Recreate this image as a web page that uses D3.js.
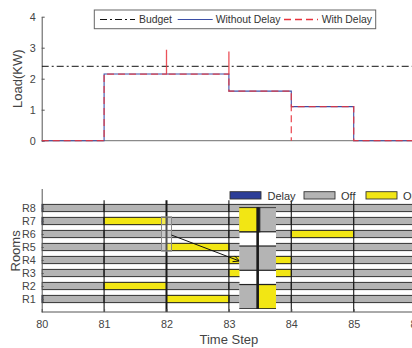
<!DOCTYPE html>
<html>
<head>
<meta charset="utf-8">
<script src="https://cdn.jsdelivr.net/npm/d3@7"></script>
<style>
  body { margin: 0; background: #fff; }
  svg { display: block; font-family: "Liberation Sans", Arial, sans-serif; }
  .axis text { fill: #444; font-size: 10.8px; }
  .axis path, .axis line { stroke: #555; }
</style>
</head>
<body>
<svg id="chart" width="412" height="348"></svg>
<script>
// Data
const timeSteps = [80, 81, 82, 83, 84, 85, 86];
const rooms = ["R1", "R2", "R3", "R4", "R5", "R6", "R7", "R8"];
const loadTicks = [0, 1, 2, 3, 4];
const budget = 2.4;

// step profiles (time, load)
const withoutDelayTime = [80, 81, 81, 83, 83, 84, 84, 85, 85, 86.6];
const withoutDelayLoad = [0, 0, 2.15, 2.15, 1.6, 1.6, 1.1, 1.1, 0, 0];
const withDelayTime = [80, 81, 81, 82, 82, 82, 83, 83, 83, 84, 84, 84, 85, 85, 86.6];
const withDelayLoad = [0, 0, 2.15, 2.15, 2.93, 2.15, 2.15, 2.88, 1.6, 1.6, 0, 1.1, 1.1, 0, 0];

// room "On" intervals
const onRoom  = ["R7", "R2", "R5", "R1", "R4", "R3", "R6"];
const onStart = [81, 81, 82, 82, 83, 83, 84];
const onEnd   = [82, 82, 83, 83, 84, 84, 85];

// room "Delay" intervals (tiny)
const delayRoom  = ["R8", "R7", "R1", "R7"];
const delayStart = [80, 80, 80, 82];
const delayEnd   = [80.02, 80.02, 80.02, 82.009];

// Colors
const colors = {
  budget: "#111",
  without: "#3b4fa6",
  withD: "#e8323c",
  off: "#b4b4b4",
  on: "#f2e614",
  delay: "#2c3e98"
};

const svg = d3.select("#chart");
svg.append("rect").attr("width", 412).attr("height", 348).attr("fill", "#fff");
const defs = svg.append("defs");

// shared x scale (figure is cropped on the right)
const x = d3.scaleLinear().domain([80, 86.5]).range([41.7, 41.7 + 6.5 * 62.4]);

// ---------------- Top panel: load ----------------
const yTop = d3.scaleLinear().domain([0, 4]).range([140.7, 16.7]);

defs.append("clipPath").attr("id", "clipTop")
  .append("rect").attr("x", 41.7).attr("y", 10).attr("width", 400).attr("height", 135);

const topPanel = svg.append("g");

// x baseline
topPanel.append("line")
  .attr("x1", x(80)).attr("x2", 412)
  .attr("y1", yTop(0)).attr("y2", yTop(0))
  .attr("stroke", "#8a8a8a").attr("stroke-width", 1.2);

topPanel.append("g").attr("class", "axis")
  .attr("transform", `translate(${x(80)},0)`)
  .call(d3.axisLeft(yTop).tickValues(loadTicks).tickFormat(d3.format("d"))
    .tickSize(-3).tickPadding(6).tickSizeOuter(0));

const plotTop = topPanel.append("g").attr("clip-path", "url(#clipTop)");

plotTop.append("line")
  .attr("x1", x(80)).attr("x2", x(86.5))
  .attr("y1", yTop(budget)).attr("y2", yTop(budget))
  .attr("stroke", colors.budget).attr("stroke-width", 1)
  .attr("stroke-dasharray", "7,3,2,3");

const lineGen = d3.line().x(d => x(d[0])).y(d => yTop(d[1]));

plotTop.append("path")
  .datum(withoutDelayTime.map((t, i) => [t, withoutDelayLoad[i]]))
  .attr("d", lineGen)
  .attr("fill", "none").attr("stroke", colors.without).attr("stroke-width", 1.1);

plotTop.append("path")
  .datum(withDelayTime.map((t, i) => [t, withDelayLoad[i]]))
  .attr("d", lineGen)
  .attr("fill", "none").attr("stroke", colors.withD).attr("stroke-width", 1.3)
  .attr("stroke-dasharray", "7,4").attr("opacity", 0.85);

topPanel.append("text")
  .attr("transform", `translate(22,${yTop(2)}) rotate(-90)`)
  .attr("text-anchor", "middle")
  .attr("fill", "#444").attr("font-size", 13)
  .text("Load(KW)");

// legend
const leg = topPanel.append("g");
leg.append("rect").attr("x", 94.3).attr("y", 10).attr("width", 281.4).attr("height", 18.7)
  .attr("fill", "#fff").attr("stroke", "#666").attr("stroke-width", 1);
const legItems = [
  { label: "Budget", x0: 100, x1: 135, tx: 139, color: colors.budget, dash: "7,3,2,3", w: 1 },
  { label: "Without Delay", x0: 177.7, x1: 212.7, tx: 215.7, color: colors.without, dash: null, w: 1.1 },
  { label: "With Delay", x0: 284, x1: 318, tx: 321.7, color: colors.withD, dash: "7,4", w: 1.3 }
];
legItems.forEach(d => {
  leg.append("line").attr("x1", d.x0).attr("x2", d.x1).attr("y1", 19.5).attr("y2", 19.5)
    .attr("stroke", d.color).attr("stroke-width", d.w)
    .attr("stroke-dasharray", d.dash);
  leg.append("text").attr("x", d.tx).attr("y", 23.3)
    .attr("fill", "#333").attr("font-size", 10.4).text(d.label);
});

// ---------------- Bottom panel: rooms ----------------
const yBot = d3.scaleLinear().domain([0, 9.5]).range([312, 188.5]);
const roomVal = r => rooms.indexOf(r) + 1;
const barH = 0.56;

defs.append("clipPath").attr("id", "clipBot")
  .append("rect").attr("x", 41.7).attr("y", 188).attr("width", 400).attr("height", 124);

// cells: each room, each time step, default Off
const cells = [];
rooms.forEach(r => {
  timeSteps.forEach(t => cells.push({ room: r, start: t, end: t + 1, state: "off" }));
});
onRoom.forEach((r, i) => cells.push({ room: r, start: onStart[i], end: onEnd[i], state: "on" }));
delayRoom.forEach((r, i) => cells.push({ room: r, start: delayStart[i], end: delayEnd[i], state: "delay" }));

function drawCells(g, xs, ys, h, sw) {
  g.selectAll("rect.cell").data(cells).join("rect")
    .attr("class", "cell")
    .attr("x", d => xs(d.start))
    .attr("width", d => xs(d.end) - xs(d.start))
    .attr("y", d => ys(roomVal(d.room) + h / 2))
    .attr("height", d => ys(roomVal(d.room) - h / 2) - ys(roomVal(d.room) + h / 2))
    .attr("fill", d => colors[d.state])
    .attr("stroke", "#222").attr("stroke-width", sw);
}

function drawGrid(g, xs, ys, y0, y1) {
  g.selectAll("line.grid").data(timeSteps.filter(t => t > 80)).join("line")
    .attr("class", "grid")
    .attr("x1", d => xs(d)).attr("x2", d => xs(d))
    .attr("y1", ys(y0)).attr("y2", ys(y1))
    .attr("stroke", "#1a1a1a")
    .attr("stroke-width", d => d === 82 ? 2 : 1.1);
}

const bot = svg.append("g");
const plotBot = bot.append("g").attr("clip-path", "url(#clipBot)");
drawCells(plotBot, x, yBot, barH, 0.9);
drawGrid(plotBot, x, yBot, 0, 8.6);

bot.append("g").attr("class", "axis")
  .attr("transform", `translate(0,312)`)
  .call(d3.axisBottom(x).tickValues(timeSteps).tickFormat(d3.format("d"))
    .tickSize(-3).tickPadding(8).tickSizeOuter(0))
  .call(g => g.select(".domain").attr("d", `M${x(80)},0H412`));

bot.append("g").attr("class", "axis")
  .attr("transform", `translate(${x(80)},0)`)
  .call(d3.axisLeft(yBot).tickValues(rooms.map((r, i) => i + 1))
    .tickFormat(v => rooms[v - 1]).tickSize(-2).tickPadding(6).tickSizeOuter(0));

bot.append("text")
  .attr("transform", `translate(19.5,${yBot(4.7)}) rotate(-90)`)
  .attr("text-anchor", "middle")
  .attr("fill", "#444").attr("font-size", 13)
  .text("Rooms");

bot.append("text")
  .attr("x", x(83)).attr("y", 344)
  .attr("text-anchor", "middle")
  .attr("fill", "#444").attr("font-size", 13)
  .text("Time Step");

// legend
const bleg = [
  { label: "Delay", x0: 230, tx: 267.5, color: colors.delay },
  { label: "Off", x0: 304, tx: 341, color: colors.off },
  { label: "On", x0: 366, tx: 403, color: colors.on }
];
bleg.forEach(d => {
  bot.append("rect").attr("x", d.x0).attr("y", 191.7).attr("width", 31).attr("height", 7.3)
    .attr("fill", d.color).attr("stroke", "#333").attr("stroke-width", 0.9);
  bot.append("text").attr("x", d.tx).attr("y", 199.5)
    .attr("fill", "#333").attr("font-size", 11).text(d.label);
});

// magnifier + inset
const zoomX = [81.92, 82.08];
const zoomY = [4.68, 7.32];
bot.append("rect")
  .attr("x", x(zoomX[0])).attr("y", yBot(zoomY[1]))
  .attr("width", x(zoomX[1]) - x(zoomX[0]))
  .attr("height", yBot(zoomY[0]) - yBot(zoomY[1]))
  .attr("fill", "#fff").attr("fill-opacity", 0.25)
  .attr("stroke", "#8a8a8a").attr("stroke-width", 1);

const xi = d3.scaleLinear().domain(zoomX).range([239.3, 276]);
const yi = d3.scaleLinear().domain(zoomY).range([309, 207.3]);

defs.append("clipPath").attr("id", "clipInset")
  .append("rect").attr("x", 239.3).attr("y", 207.3).attr("width", 36.7).attr("height", 101.7);

// arrow from magnifier to inset
const ax0 = x(zoomX[1]), ay0 = yBot(5.92);
const ax1 = 239.5, ay1 = yBot(3.92);
const ang = Math.atan2(ay1 - ay0, ax1 - ax0);
bot.append("line").attr("x1", ax0).attr("y1", ay0).attr("x2", ax1).attr("y2", ay1)
  .attr("stroke", "#111").attr("stroke-width", 1);
[-0.45, 0.45].forEach(a => {
  bot.append("line").attr("x1", ax1).attr("y1", ay1)
    .attr("x2", ax1 - 7 * Math.cos(ang + a)).attr("y2", ay1 - 7 * Math.sin(ang + a))
    .attr("stroke", "#111").attr("stroke-width", 1);
});

const inset = bot.append("g").attr("clip-path", "url(#clipInset)");
inset.append("rect").attr("x", 239.3).attr("y", 207.3).attr("width", 36.7).attr("height", 101.7)
  .attr("fill", "#fff");
drawCells(inset, xi, yi, 0.63, 1.2);
inset.append("line")
  .attr("x1", xi(82)).attr("x2", xi(82)).attr("y1", 207.3).attr("y2", 309)
  .attr("stroke", "#1a1a1a").attr("stroke-width", 2.6);
</script>
</body>
</html>
